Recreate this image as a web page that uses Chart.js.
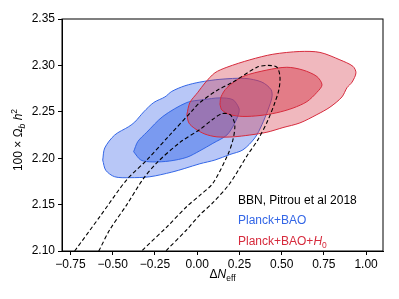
<!DOCTYPE html>
<html>
<head>
<meta charset="utf-8">
<script src="https://cdn.jsdelivr.net/npm/chart.js@4/dist/chart.umd.min.js"></script>
<style>
  html, body { margin: 0; padding: 0; background: #fff; }
  #wrap { width: 399px; height: 299px; }
</style>
</head>
<body>
<div id="wrap"><canvas id="chart" width="399" height="299"></canvas></div>
<script>
// contour vertices: x = Delta N_eff, y = 100 Omega_b h^2
const blueOuterX = [-0.559, -0.547, -0.488, -0.405, -0.369, -0.316, -0.257, -0.191, -0.150, -0.073, 0.016, 0.135, 0.283, 0.383, 0.437, 0.443, 0.419, 0.383, 0.342, 0.271, 0.194, 0.105, 0.016, -0.073, -0.150, -0.280, -0.399, -0.488, -0.541];
const blueOuterY = [2.198, 2.211, 2.225, 2.234, 2.239, 2.250, 2.260, 2.266, 2.272, 2.278, 2.282, 2.285, 2.286, 2.282, 2.274, 2.266, 2.252, 2.236, 2.222, 2.209, 2.204, 2.198, 2.194, 2.189, 2.185, 2.180, 2.179, 2.180, 2.187];

const blueInnerX = [-0.376, -0.351, -0.298, -0.203, -0.061, 0.034, 0.135, 0.212, 0.247, 0.247, 0.223, 0.176, 0.093, 0.016, -0.061, -0.162, -0.263, -0.333];
const blueInnerY = [2.207, 2.218, 2.228, 2.245, 2.260, 2.263, 2.265, 2.263, 2.254, 2.249, 2.238, 2.225, 2.216, 2.208, 2.201, 2.197, 2.196, 2.198];

const redOuterX = [-0.061, -0.043, 0.004, 0.046, 0.105, 0.176, 0.312, 0.448, 0.608, 0.727, 0.845, 0.922, 0.940, 0.917, 0.887, 0.857, 0.786, 0.709, 0.608, 0.508, 0.413, 0.312, 0.212, 0.117, 0.046, -0.014, -0.049];
const redOuterY = [2.247, 2.260, 2.271, 2.281, 2.292, 2.298, 2.306, 2.312, 2.315, 2.314, 2.306, 2.299, 2.292, 2.282, 2.276, 2.266, 2.255, 2.247, 2.238, 2.233, 2.228, 2.225, 2.223, 2.223, 2.226, 2.232, 2.238];

const redInnerX = [0.135, 0.141, 0.176, 0.271, 0.413, 0.531, 0.626, 0.709, 0.739, 0.709, 0.650, 0.567, 0.472, 0.372, 0.271, 0.194, 0.146];
const redInnerY = [2.258, 2.266, 2.276, 2.288, 2.295, 2.298, 2.295, 2.288, 2.279, 2.271, 2.261, 2.254, 2.249, 2.246, 2.245, 2.247, 2.252];

// BBN dashed contours (run off the bottom of the axes)
const bbnOuterX = [-0.725, -0.576, -0.416, -0.298, -0.162, -0.025, 0.016, 0.117, 0.212, 0.354, 0.419, 0.472, 0.490, 0.484, 0.460, 0.419, 0.360, 0.300, 0.194, 0.093, 0.016, -0.061, -0.185, -0.280, -0.428, -0.576, -0.725, -0.802, -0.813, -0.784];
const bbnOuterY = [2.100, 2.137, 2.177, 2.198, 2.225, 2.252, 2.260, 2.273, 2.282, 2.298, 2.300, 2.298, 2.288, 2.274, 2.260, 2.241, 2.220, 2.204, 2.173, 2.152, 2.139, 2.123, 2.100, 2.080, 2.053, 2.036, 2.033, 2.042, 2.058, 2.080];

const bbnInnerX = [-0.582, -0.517, -0.416, -0.322, -0.239, -0.102, 0.016, 0.093, 0.146, 0.194, 0.218, 0.223, 0.212, 0.182, 0.093, 0.016, -0.061, -0.179, -0.328, -0.428, -0.517, -0.588, -0.624, -0.612];
const bbnInnerY = [2.100, 2.123, 2.150, 2.177, 2.195, 2.217, 2.231, 2.242, 2.248, 2.247, 2.240, 2.233, 2.220, 2.204, 2.173, 2.160, 2.148, 2.126, 2.100, 2.080, 2.067, 2.063, 2.074, 2.088];

const xTicks = [-0.75, -0.50, -0.25, 0.00, 0.25, 0.50, 0.75, 1.00];
const yTicks = [2.10, 2.15, 2.20, 2.25, 2.30, 2.35];
const legendLabels = ['BBN, Pitrou et al 2018', 'Planck+BAO', 'Planck+BAO+'];

const FONT = '"Liberation Sans", Arial, sans-serif';
const BLUE = '#3366e6';
const RED = '#d62a3c';

// zip x/y lists into a closed loop of points
function loop(xs, ys) {
    const pts = xs.map((x, i) => ({ x: x, y: ys[i] }));
    pts.push({ x: xs[0], y: ys[0] });
    return pts;
}

function contour(xs, ys, line, fillCol, order, dash) {
    return {
        data: loop(xs, ys),
        showLine: true,
        borderColor: line,
        borderWidth: dash ? 1.1 : 1,
        borderDash: dash || [],
        backgroundColor: fillCol || 'rgba(0,0,0,0)',
        fill: fillCol ? 'shape' : false,
        pointRadius: 0,
        pointHoverRadius: 0,
        tension: 0.3,
        capBezierPoints: false,
        order: order,
        clip: 0
    };
}

function fmt(v) {
    return v < 0 ? '\u2212' + (-v).toFixed(2) : v.toFixed(2);
}

// draw a run of text pieces (font, offset) one after another
function runWidth(ctx, parts) {
    let w = 0;
    parts.forEach(p => { ctx.font = p.f; w += ctx.measureText(p.t).width; });
    return w;
}
function drawRun(ctx, parts, x, y, color) {
    ctx.fillStyle = color;
    ctx.textBaseline = 'alphabetic';
    ctx.textAlign = 'left';
    parts.forEach(p => {
        ctx.font = p.f;
        ctx.fillText(p.t, x, y + (p.dy || 0));
        x += ctx.measureText(p.t).width;
    });
}

const decor = {
    id: 'decor',
    afterDraw(chart) {
        const { ctx, chartArea: a } = chart;
        ctx.save();
        // frame
        ctx.strokeStyle = '#000';
        ctx.lineWidth = 1;
        ctx.strokeRect(a.left, a.top, a.right - a.left, a.bottom - a.top);

        const reg = '12px ' + FONT;
        const ita = 'italic 12px ' + FONT;
        const sm = '8.5px ' + FONT;

        // x title: ΔN_eff
        const xt = [{ t: '\u0394', f: reg }, { t: 'N', f: ita }, { t: 'eff', f: sm, dy: 3 }];
        const xw = runWidth(ctx, xt);
        drawRun(ctx, xt, (a.left + a.right) / 2 - xw / 2, 278, '#000');

        // y title: 100 × Ω_b h^2
        const yt = [{ t: '100 \u00d7 \u03a9', f: reg }, { t: 'b', f: 'italic 8.5px ' + FONT, dy: 3 },
                    { t: ' h', f: ita }, { t: '2', f: sm, dy: -5 }];
        const yw = runWidth(ctx, yt);
        ctx.save();
        ctx.translate(22, 140);
        ctx.rotate(-Math.PI / 2);
        drawRun(ctx, yt, -yw / 2, 0, '#000');
        ctx.restore();

        // legend labels
        drawRun(ctx, [{ t: legendLabels[0], f: reg }], 238, 204, '#000');
        drawRun(ctx, [{ t: legendLabels[1], f: reg }], 238, 224, BLUE);
        drawRun(ctx, [{ t: legendLabels[2], f: reg }, { t: 'H', f: ita }, { t: '0', f: sm, dy: 3 }], 238, 245, RED);
        ctx.restore();
    }
};

new Chart(document.getElementById('chart'), {
    type: 'scatter',
    data: {
        datasets: [
            contour(bbnOuterX, bbnOuterY, '#000', null, 0, [4, 2.5]),
            contour(bbnInnerX, bbnInnerY, '#000', null, 1, [4, 2.5]),
            contour(redInnerX, redInnerY, RED, 'rgba(213,53,68,0.45)', 2),
            contour(redOuterX, redOuterY, RED, 'rgba(213,53,68,0.35)', 3),
            contour(blueInnerX, blueInnerY, BLUE, '#7a9af0', 4),
            contour(blueOuterX, blueOuterY, BLUE, '#b8c7f7', 5)
        ]
    },
    options: {
        responsive: false,
        animation: false,
        events: [],
        layout: { padding: { top: 19, right: 16, left: 0, bottom: 0 } },
        plugins: {
            legend: { display: false },
            tooltip: { enabled: false }
        },
        scales: {
            x: {
                type: 'linear',
                min: -0.8,
                max: 1.1,
                afterBuildTicks: axis => { axis.ticks = xTicks.map(v => ({ value: v })); },
                afterFit: s => { s.height = 48; },
                grid: { display: true, drawOnChartArea: false, drawTicks: true, tickLength: 4, color: '#000', lineWidth: 1 },
                border: { display: true, color: '#000', width: 1 },
                ticks: { font: { family: FONT, size: 12 }, color: '#000', padding: 2, maxRotation: 0, autoSkip: false, callback: v => fmt(v) }
            },
            y: {
                type: 'linear',
                min: 2.10,
                max: 2.35,
                afterBuildTicks: axis => { axis.ticks = yTicks.map(v => ({ value: v })); },
                afterFit: s => { s.width = 62; },
                grid: { display: true, drawOnChartArea: false, drawTicks: true, tickLength: 4, color: '#000', lineWidth: 1 },
                border: { display: true, color: '#000', width: 1 },
                ticks: { font: { family: FONT, size: 12 }, color: '#000', padding: 3, autoSkip: false, callback: v => fmt(v) }
            }
        }
    },
    plugins: [decor]
});
</script>
</body>
</html>
